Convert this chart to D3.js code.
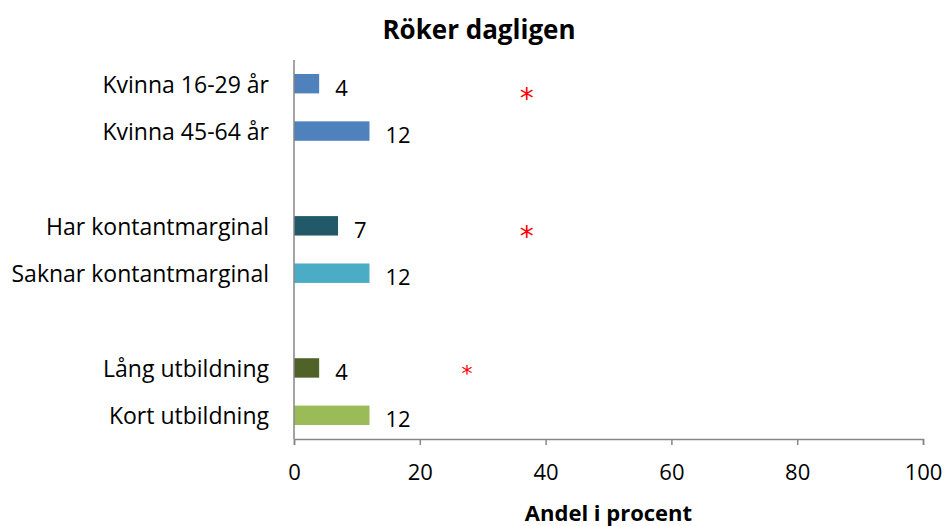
<!DOCTYPE html>
<html>
<head>
<meta charset="utf-8">
<script src="https://cdn.jsdelivr.net/npm/d3@7"></script>
<style>
  body { margin: 0; background: #fff; }
  text { font-family: "Open Sans", "Noto Sans", sans-serif; fill: #000; }
</style>
</head>
<body>
<div id="chart"></div>
<script>
// categories top to bottom; null marks an empty slot between groups
const categories = ['Kvinna 16-29 år', 'Kvinna 45-64 år', null,
  'Har kontantmarginal', 'Saknar kontantmarginal', null,
  'Lång utbildning', 'Kort utbildning'];
const values = [4, 12, null, 7, 12, null, 4, 12];
const colors = ['#4f81bd', '#4f81bd', null, '#215968', '#4bacc6', null, '#4f6228', '#9bbb59'];
const xTicks = [0, 20, 40, 60, 80, 100];
// significance markers: value position and slot position
const markerX = [37, 37, 27.5];
const markerSlot = [0.7, 3.6, 6.5];
const markerSize = [28, 28, 22];

const W = 947;
const H = 526;
const margin = { top: 60, right: 24, bottom: 87, left: 294 };
const width = W - margin.left - margin.right;
const height = H - margin.top - margin.bottom;

const x = d3.scaleLinear().domain([0, 100]).range([0, width]);
const y = d3.scaleBand()
  .domain(d3.range(categories.length))
  .range([0, height])
  .paddingInner(0.59)
  .paddingOuter(0.295);

const svg = d3.select('#chart').append('svg')
  .attr('width', W)
  .attr('height', H);

svg.append('text')
  .attr('x', 479)
  .attr('y', 29)
  .attr('text-anchor', 'middle')
  .attr('dominant-baseline', 'central')
  .style('font-size', '26px')
  .style('font-weight', 'bold')
  .text('Röker dagligen');

const g = svg.append('g')
  .attr('transform', `translate(${margin.left},${margin.top})`);

const rows = categories.map((c, i) => ({ c, v: values[i], col: colors[i], i }))
  .filter(d => d.c !== null);

g.selectAll('rect.bar')
  .data(rows)
  .enter().append('rect')
  .attr('class', 'bar')
  .attr('x', x(0))
  .attr('y', d => y(d.i))
  .attr('width', d => x(d.v) - x(0))
  .attr('height', y.bandwidth())
  .attr('fill', d => d.col);

g.selectAll('text.val')
  .data(rows)
  .enter().append('text')
  .attr('class', 'val')
  .attr('x', d => x(d.v) + 16)
  .attr('y', d => y(d.i) + y.bandwidth() / 2 + 3)
  .attr('dominant-baseline', 'central')
  .style('font-size', '22px')
  .text(d => d.v);

g.selectAll('text.cat')
  .data(rows)
  .enter().append('text')
  .attr('class', 'cat')
  .attr('x', -25)
  .attr('y', d => y(d.i) + y.bandwidth() / 2)
  .attr('text-anchor', 'end')
  .attr('dominant-baseline', 'central')
  .style('font-size', '23px')
  .text(d => d.c);

// markers
g.selectAll('text.star')
  .data(markerX.map((v, i) => ({ v, s: markerSlot[i], size: markerSize[i] })))
  .enter().append('text')
  .attr('class', 'star')
  .attr('x', d => x(d.v))
  .attr('y', d => y.step() * (d.s + 0.5) - 18)
  .attr('text-anchor', 'middle')
  .attr('dominant-baseline', 'central')
  .style('font-family', '"DejaVu Sans", sans-serif')
  .style('font-size', d => `${d.size}px`)
  .style('fill', '#ff0000')
  .text('*');

// y axis line
g.append('line')
  .attr('x1', 0).attr('x2', 0)
  .attr('y1', 0).attr('y2', height)
  .attr('stroke', '#868686')
  .attr('stroke-width', 1.5);

const xAxis = d3.axisBottom(x)
  .tickValues(xTicks)
  .tickSize(6)
  .tickPadding(19);

const ax = g.append('g')
  .attr('transform', `translate(0,${height})`)
  .call(xAxis);
ax.select('.domain').attr('stroke', '#868686').attr('stroke-width', 1.5);
ax.selectAll('.tick line').attr('stroke', '#868686').attr('stroke-width', 1.5);
ax.selectAll('.tick text')
  .style('font-size', '22px')
  .style('font-family', '"Open Sans", "Noto Sans", sans-serif');

svg.append('text')
  .attr('x', margin.left + width / 2)
  .attr('y', 521)
  .attr('text-anchor', 'middle')
  .style('font-size', '22px')
  .style('font-weight', 'bold')
  .text('Andel i procent');
</script>
</body>
</html>
